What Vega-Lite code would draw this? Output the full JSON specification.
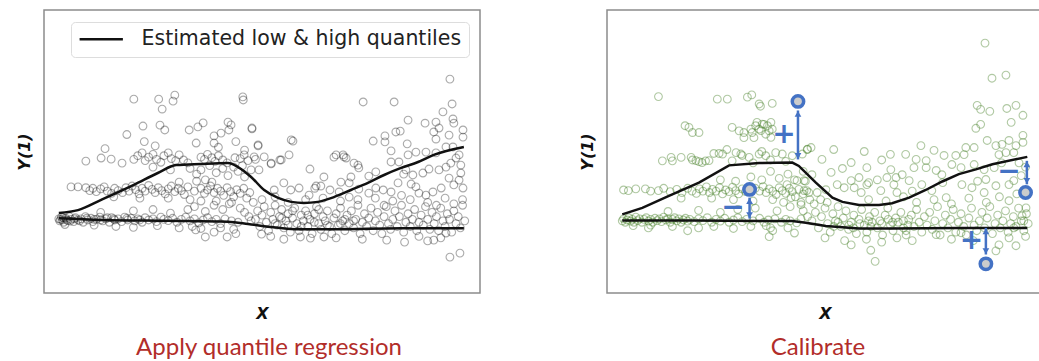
{
  "$schema": "https://vega.github.io/schema/vega-lite/v6.json",
  "background": "white",
  "padding": {"left": 15, "top": 9, "right": 0, "bottom": 0},
  "spacing": 97,
  "resolve": {"scale": {"color": "independent"}, "legend": {"color": "independent"}},
  "config": {
    "view": {"stroke": "#8c8c8c", "strokeWidth": 1.5},
    "axis": {"labels": false, "ticks": false, "domain": false, "grid": false, "titleFont": "DejaVu Sans", "titleFontSize": 16, "titleFontWeight": "bold", "titleFontStyle": "italic", "titleColor": "#111"},
    "axisX": {"titlePadding": 12},
    "axisY": {"titlePadding": 12},
    "title": {"orient": "bottom", "font": "Lato", "fontSize": 24, "fontWeight": "normal", "color": "#b22d2a", "offset": 15}
  },
  "datasets": {
    "ptsL": [
      {"x":0.34,"y":2.62},{"x":0.36,"y":2.55},{"x":0.4,"y":2.68},{"x":0.42,"y":2.58},{"x":0.45,"y":2.5},{"x":0.5,"y":2.64},{"x":0.55,"y":2.56},{"x":0.58,"y":2.7},{"x":0.62,"y":2.6},{"x":0.68,"y":2.52},{"x":0.72,"y":2.66},{"x":0.78,"y":2.58},{"x":0.85,"y":2.62},{"x":0.9,"y":2.5},{"x":0.95,"y":2.7},{"x":1.0,"y":2.58},{"x":1.08,"y":2.64},{"x":1.12,"y":2.52},{"x":1.2,"y":2.6},{"x":1.28,"y":2.68},{"x":1.35,"y":2.55},{"x":1.42,"y":2.62},{"x":1.5,"y":2.5},{"x":1.55,"y":2.66},{"x":1.62,"y":2.58},{"x":1.7,"y":2.62},{"x":1.78,"y":2.52},{"x":1.85,"y":2.68},{"x":1.92,"y":2.58},{"x":2.0,"y":2.64},{"x":2.08,"y":2.55},{"x":2.15,"y":2.62},{"x":2.25,"y":2.5},{"x":2.32,"y":2.66},{"x":2.4,"y":2.58},{"x":2.5,"y":2.62},{"x":2.58,"y":2.52},{"x":2.68,"y":2.68},{"x":2.75,"y":2.6},{"x":2.85,"y":2.56},{"x":2.95,"y":2.64},{"x":3.05,"y":2.5},{"x":3.15,"y":2.6},{"x":3.25,"y":2.68},{"x":3.35,"y":2.55},{"x":3.45,"y":2.62},{"x":3.55,"y":2.48},{"x":3.65,"y":2.58},{"x":3.75,"y":2.66},{"x":3.85,"y":2.52},{"x":3.95,"y":2.6},{"x":4.05,"y":2.45},{"x":4.15,"y":2.62},{"x":4.3,"y":2.55},{"x":4.45,"y":2.5},
      {"x":0.38,"y":2.6},{"x":0.44,"y":2.66},{"x":0.52,"y":2.58},{"x":0.6,"y":2.54},{"x":0.7,"y":2.62},{"x":0.82,"y":2.55},{"x":0.98,"y":2.64},{"x":1.15,"y":2.6},{"x":1.3,"y":2.58},{"x":1.45,"y":2.66},{"x":1.6,"y":2.62},{"x":1.9,"y":2.64},{"x":2.2,"y":2.58},
      {"x":0.48,"y":2.42},{"x":1.15,"y":2.4},{"x":1.65,"y":2.35},{"x":2.05,"y":2.32},{"x":2.6,"y":2.38},{"x":3.1,"y":2.3},{"x":3.4,"y":2.35},{"x":3.6,"y":2.28},{"x":3.9,"y":2.15},{"x":4.05,"y":2.3},{"x":4.2,"y":1.98},{"x":4.35,"y":2.25},{"x":4.4,"y":2.1},{"x":3.48,"y":2.23},{"x":3.7,"y":1.98},
      {"x":1.3,"y":2.85},{"x":2.05,"y":2.9},{"x":2.5,"y":2.95},{"x":2.9,"y":2.82},{"x":3.3,"y":2.95},{"x":3.45,"y":3.05},{"x":3.7,"y":2.88},{"x":3.9,"y":3.1},{"x":4.1,"y":2.95},{"x":4.25,"y":3.15},{"x":4.5,"y":3.0},{"x":4.6,"y":2.85},{"x":4.7,"y":2.7},{"x":4.75,"y":2.55},
      {"x":0.62,"y":3.75},{"x":0.78,"y":3.75},{"x":0.96,"y":3.72},{"x":1.05,"y":3.62},{"x":1.12,"y":3.7},{"x":1.2,"y":3.58},{"x":1.3,"y":3.68},{"x":1.38,"y":3.75},{"x":1.45,"y":3.6},{"x":1.55,"y":3.52},{"x":1.62,"y":3.7},{"x":1.7,"y":3.62},{"x":1.8,"y":3.55},{"x":1.88,"y":3.72},{"x":1.95,"y":3.6},{"x":2.02,"y":3.78},{"x":2.1,"y":3.65},{"x":2.18,"y":3.5},{"x":2.25,"y":3.7},{"x":2.32,"y":3.6},{"x":2.4,"y":3.8},{"x":2.48,"y":3.66},{"x":2.55,"y":3.55},{"x":2.62,"y":3.72},{"x":2.7,"y":3.62},{"x":2.78,"y":3.5},{"x":2.85,"y":3.68},{"x":2.92,"y":3.78},{"x":3.0,"y":3.58},{"x":3.08,"y":3.7},{"x":3.15,"y":3.62},{"x":3.22,"y":3.48},{"x":3.3,"y":3.75},{"x":3.45,"y":3.6},{"x":3.6,"y":3.7},{"x":3.68,"y":3.52},{"x":3.75,"y":3.64},{"x":3.82,"y":3.78},{"x":3.9,"y":3.55},{"x":3.98,"y":3.7},{"x":4.05,"y":3.6},{"x":4.12,"y":3.45},{"x":4.2,"y":3.72},{"x":4.28,"y":3.58},{"x":4.35,"y":3.4},{"x":4.42,"y":3.65},{"x":4.5,"y":3.52},{"x":4.58,"y":3.7},{"x":4.65,"y":3.35},{"x":4.72,"y":3.55},{"x":4.8,"y":3.2},{"x":2.2,"y":3.35},{"x":2.85,"y":3.35},{"x":3.35,"y":3.3},{"x":3.6,"y":3.25},{"x":3.95,"y":3.25},{"x":4.3,"y":3.2},{"x":1.6,"y":3.4},{"x":3.1,"y":3.92},{"x":3.5,"y":3.95},{"x":3.7,"y":4.0},{"x":3.85,"y":3.92},
      {"x":0.96,"y":4.66},{"x":1.31,"y":4.77},{"x":1.54,"y":4.73},{"x":1.79,"y":4.59},{"x":2.06,"y":4.72},{"x":2.15,"y":4.85},{"x":2.25,"y":4.95},{"x":2.32,"y":4.68},{"x":2.4,"y":4.8},{"x":2.5,"y":4.9},{"x":2.58,"y":4.72},{"x":2.68,"y":4.62},{"x":2.75,"y":4.85},{"x":2.85,"y":4.95},{"x":2.92,"y":4.75},{"x":3.02,"y":4.68},{"x":3.1,"y":4.88},{"x":3.2,"y":4.7},{"x":3.3,"y":4.6},{"x":3.6,"y":4.8},{"x":3.68,"y":4.72},{"x":3.75,"y":4.9},{"x":3.85,"y":4.78},{"x":3.92,"y":4.65},{"x":4.0,"y":4.85},{"x":4.1,"y":4.7},{"x":4.2,"y":4.6},{"x":4.38,"y":4.78},{"x":4.5,"y":4.75},{"x":4.68,"y":4.68},{"x":4.85,"y":4.72},
      {"x":3.35,"y":4.4},{"x":3.5,"y":4.2},{"x":3.6,"y":4.35},{"x":3.8,"y":4.5},{"x":3.95,"y":4.25},{"x":4.1,"y":4.4},{"x":4.22,"y":4.15},{"x":4.35,"y":4.45},{"x":4.45,"y":4.3},{"x":4.55,"y":4.5},{"x":4.6,"y":4.1},{"x":4.75,"y":4.35},{"x":2.5,"y":4.45},{"x":2.9,"y":4.35},
      {"x":2.06,"y":6.85},{"x":2.63,"y":6.85},{"x":2.96,"y":6.78},{"x":3.0,"y":6.99},{"x":2.71,"y":6.5},{"x":4.57,"y":6.82},{"x":2.27,"y":5.9},{"x":1.9,"y":5.6},{"x":2.66,"y":5.93},{"x":2.77,"y":5.76},{"x":3.33,"y":5.76},{"x":3.53,"y":5.87},{"x":3.65,"y":6.01},{"x":3.9,"y":5.55},{"x":4.22,"y":6.04},{"x":4.29,"y":5.94},{"x":4.24,"y":5.76},{"x":4.06,"y":5.65},{"x":4.77,"y":5.83},{"x":4.91,"y":5.2},{"x":3.49,"y":5.3},{"x":3.9,"y":5.3},{"x":2.3,"y":5.35},{"x":2.55,"y":5.2},{"x":4.0,"y":5.15},{"x":4.4,"y":5.35},{"x":4.6,"y":5.05},{"x":1.4,"y":5.1},
      {"x":4.85,"y":2.6},{"x":4.9,"y":2.9},{"x":4.95,"y":2.35},{"x":5.0,"y":2.75},{"x":5.05,"y":3.05},{"x":5.1,"y":2.5},{"x":5.15,"y":2.2},{"x":5.2,"y":2.85},{"x":5.25,"y":2.6},{"x":5.3,"y":3.1},{"x":5.35,"y":2.4},{"x":5.4,"y":2.7},{"x":5.45,"y":2.95},{"x":5.5,"y":2.3},{"x":5.55,"y":2.55},{"x":5.6,"y":2.8},{"x":5.65,"y":2.15},{"x":5.7,"y":2.65},{"x":5.75,"y":3.0},{"x":5.8,"y":2.45},{"x":5.85,"y":2.2},{"x":5.9,"y":2.75},{"x":5.95,"y":2.55},{"x":6.0,"y":2.9},{"x":6.05,"y":2.35},{"x":6.1,"y":2.6},{"x":6.15,"y":2.1},{"x":6.2,"y":2.8},{"x":6.25,"y":3.05},{"x":6.3,"y":2.45},{"x":6.35,"y":2.25},{"x":6.4,"y":2.7},{"x":6.45,"y":2.55},{"x":6.5,"y":2.9},{"x":6.55,"y":2.35},{"x":6.6,"y":2.1},{"x":6.65,"y":2.65},{"x":6.7,"y":2.8},{"x":6.75,"y":2.4},{"x":6.8,"y":3.0},{"x":6.85,"y":2.55},{"x":6.9,"y":2.2},{"x":6.95,"y":2.75},{"x":7.0,"y":2.45},{"x":7.05,"y":2.9},{"x":7.1,"y":2.3},{"x":7.15,"y":2.6},{"x":7.2,"y":3.1},{"x":7.25,"y":2.1},{"x":7.3,"y":2.5},{"x":7.35,"y":2.8},{"x":7.4,"y":2.35},{"x":7.45,"y":2.65},{"x":7.5,"y":3.0},{"x":7.55,"y":2.2},{"x":7.6,"y":2.55},{"x":7.65,"y":2.85},{"x":7.7,"y":2.4},{"x":7.75,"y":2.1},{"x":7.8,"y":2.7},{"x":7.85,"y":3.05},{"x":7.9,"y":2.45},{"x":7.95,"y":2.25},{"x":8.0,"y":2.6},{"x":8.05,"y":2.9},{"x":8.1,"y":2.35},{"x":8.15,"y":2.7},{"x":8.2,"y":3.1},{"x":8.25,"y":2.15},{"x":8.3,"y":2.5},{"x":8.35,"y":2.8},{"x":8.4,"y":2.35},{"x":8.45,"y":2.6},{"x":8.5,"y":2.95},{"x":8.55,"y":2.2},{"x":8.6,"y":2.5},{"x":8.65,"y":2.75},{"x":8.7,"y":2.4},{"x":8.75,"y":3.05},{"x":8.8,"y":2.6},{"x":8.85,"y":2.25},{"x":8.9,"y":2.85},{"x":8.95,"y":2.45},{"x":9.0,"y":2.7},{"x":9.05,"y":2.2},{"x":9.1,"y":3.0},{"x":9.15,"y":2.55},{"x":9.2,"y":2.35},{"x":9.25,"y":2.8},{"x":9.3,"y":2.6},{"x":9.35,"y":2.15},{"x":9.4,"y":2.9},{"x":9.45,"y":2.45},{"x":9.5,"y":2.7},{"x":9.55,"y":2.3},{"x":9.6,"y":3.1},{"x":9.65,"y":2.55},
      {"x":5.3,"y":2.45},{"x":5.6,"y":2.4},{"x":5.9,"y":2.35},{"x":6.2,"y":2.5},{"x":6.5,"y":2.4},{"x":6.8,"y":2.45},{"x":7.1,"y":2.55},{"x":5.7,"y":2.9},{"x":6.3,"y":2.95},{"x":6.9,"y":2.6},{"x":5.45,"y":2.65},{"x":6.05,"y":2.75},
      {"x":4.99,"y":2.08},{"x":5.88,"y":1.98},{"x":6.11,"y":1.94},{"x":6.42,"y":1.98},{"x":7.86,"y":1.87},{"x":8.27,"y":1.8},{"x":8.8,"y":1.84},{"x":8.94,"y":1.87},{"x":9.22,"y":2.12},{"x":9.31,"y":1.27},{"x":9.54,"y":1.41},{"x":5.5,"y":1.9},{"x":6.7,"y":1.95},{"x":7.3,"y":1.9},{"x":8.6,"y":2.0},{"x":9.1,"y":1.95},{"x":5.2,"y":2.0},
      {"x":5.66,"y":3.64},{"x":6.21,"y":3.7},{"x":6.35,"y":3.78},{"x":6.08,"y":3.46},{"x":6.56,"y":3.64},{"x":5.28,"y":3.64},{"x":5.41,"y":4.7},{"x":5.21,"y":4.59},{"x":4.91,"y":5.23},{"x":4.77,"y":5.8},{"x":4.56,"y":6.93},{"x":4.93,"y":4.35},{"x":6.1,"y":4.38},{"x":6.42,"y":4.1},{"x":6.65,"y":4.8},{"x":5.67,"y":5.41},{"x":5.5,"y":3.89},{"x":5.85,"y":3.71},{"x":6.24,"y":3.78},
      {"x":9.31,"y":7.56},{"x":7.32,"y":6.75},{"x":8.03,"y":6.75},{"x":9.36,"y":6.68},{"x":9.15,"y":6.4},{"x":8.35,"y":6.11},{"x":8.74,"y":6.0},{"x":8.99,"y":6.04},{"x":9.38,"y":6.15},{"x":9.4,"y":6.0},{"x":7.82,"y":5.55},{"x":8.07,"y":5.69},{"x":8.17,"y":5.72},{"x":7.55,"y":5.37},{"x":7.82,"y":5.34},{"x":8.33,"y":5.27},{"x":8.94,"y":5.69},{"x":8.99,"y":5.44},{"x":9.06,"y":5.83},{"x":9.29,"y":5.58},{"x":9.61,"y":5.76},{"x":9.61,"y":5.51},{"x":7.96,"y":5.02},{"x":8.53,"y":4.98},{"x":8.76,"y":4.98},{"x":8.99,"y":4.95},{"x":9.22,"y":5.16},{"x":9.38,"y":5.16},{"x":9.52,"y":4.88},{"x":9.45,"y":4.77},{"x":8.35,"y":4.88},{"x":8.14,"y":4.63},{"x":7.96,"y":4.63},{"x":6.93,"y":4.77},{"x":6.86,"y":4.88},{"x":7.2,"y":4.52},{"x":7.22,"y":4.42},{"x":7.61,"y":4.28},{"x":7.45,"y":4.13},{"x":7.04,"y":4.1},{"x":6.81,"y":3.92},{"x":7.0,"y":3.89},{"x":8.3,"y":4.35},{"x":8.46,"y":4.17},{"x":8.25,"y":4.2},{"x":8.69,"y":4.24},{"x":8.83,"y":4.38},{"x":9.06,"y":4.35},{"x":9.22,"y":4.45},{"x":9.33,"y":4.59},{"x":9.56,"y":4.52},{"x":9.56,"y":4.24},{"x":9.29,"y":4.06},{"x":9.52,"y":3.99},{"x":9.4,"y":3.82},{"x":9.61,"y":3.71},{"x":9.11,"y":3.71},{"x":8.92,"y":3.57},{"x":8.76,"y":3.46},{"x":8.6,"y":3.53},{"x":8.53,"y":3.75},{"x":8.42,"y":3.85},{"x":8.12,"y":3.89},{"x":7.96,"y":3.57},{"x":7.78,"y":3.64},{"x":7.61,"y":3.71},{"x":7.45,"y":3.53},{"x":7.22,"y":3.67},{"x":7.0,"y":3.39},{"x":6.77,"y":3.57},
      {"x":6.7,"y":4.88},{"x":6.88,"y":4.81},{"x":7.11,"y":4.59},{"x":5.71,"y":5.37},{"x":5.62,"y":4.88},{"x":5.21,"y":4.56},{"x":5.44,"y":4.7},{"x":5.05,"y":4.81},{"x":4.59,"y":4.88},{"x":4.82,"y":4.81},
      {"x":5.0,"y":3.3},{"x":5.3,"y":3.4},{"x":5.6,"y":3.2},{"x":6.0,"y":3.3},{"x":6.4,"y":3.35},{"x":6.8,"y":3.25},{"x":7.2,"y":3.3},{"x":7.6,"y":3.35},{"x":8.0,"y":3.25},{"x":8.4,"y":3.3},{"x":8.8,"y":3.2},{"x":9.2,"y":3.35},{"x":9.6,"y":3.3},{"x":7.8,"y":3.1},{"x":8.2,"y":3.45},{"x":9.0,"y":3.1},{"x":9.4,"y":3.15}
    ],
    "linesL": [
      {"q":"hi","x":0.34,"y":2.83},{"q":"hi","x":0.78,"y":2.93},{"q":"hi","x":1.31,"y":3.29},{"q":"hi","x":2.06,"y":3.82},{"q":"hi","x":2.61,"y":4.24},{"q":"hi","x":3.03,"y":4.52},{"q":"hi","x":3.6,"y":4.56},{"q":"hi","x":4.22,"y":4.59},{"q":"hi","x":4.45,"y":4.45},{"q":"hi","x":4.75,"y":4.1},{"q":"hi","x":5.05,"y":3.64},{"q":"hi","x":5.37,"y":3.36},{"q":"hi","x":5.67,"y":3.22},{"q":"hi","x":5.96,"y":3.18},{"q":"hi","x":6.28,"y":3.22},{"q":"hi","x":6.65,"y":3.39},{"q":"hi","x":7.04,"y":3.64},{"q":"hi","x":7.43,"y":3.89},{"q":"hi","x":7.8,"y":4.17},{"q":"hi","x":8.19,"y":4.42},{"q":"hi","x":8.58,"y":4.63},{"q":"hi","x":8.94,"y":4.88},{"q":"hi","x":9.63,"y":5.16},
      {"q":"lo","x":0.34,"y":2.64},{"q":"lo","x":1.31,"y":2.58},{"q":"lo","x":2.84,"y":2.55},{"q":"lo","x":4.22,"y":2.52},{"q":"lo","x":4.68,"y":2.44},{"q":"lo","x":5.14,"y":2.34},{"q":"lo","x":5.89,"y":2.25},{"q":"lo","x":6.65,"y":2.25},{"q":"lo","x":8.19,"y":2.29},{"q":"lo","x":9.63,"y":2.29}
    ],
    "ptsR": [
      {"x":0.35,"y":2.55},{"x":0.38,"y":2.62},{"x":0.42,"y":2.5},{"x":0.46,"y":2.58},{"x":0.5,"y":2.66},{"x":0.54,"y":2.54},{"x":0.58,"y":2.6},{"x":0.62,"y":2.5},{"x":0.66,"y":2.68},{"x":0.7,"y":2.56},{"x":0.75,"y":2.62},{"x":0.8,"y":2.5},{"x":0.85,"y":2.6},{"x":0.9,"y":2.66},{"x":0.95,"y":2.54},{"x":1.0,"y":2.6},{"x":1.05,"y":2.5},{"x":1.1,"y":2.64},{"x":1.15,"y":2.56},{"x":1.2,"y":2.62},{"x":1.25,"y":2.52},{"x":1.3,"y":2.68},{"x":1.35,"y":2.58},{"x":1.4,"y":2.62},{"x":1.45,"y":2.5},{"x":1.5,"y":2.6},{"x":1.55,"y":2.66},{"x":1.6,"y":2.55},{"x":1.65,"y":2.62},{"x":1.7,"y":2.5},{"x":1.75,"y":2.58},{"x":1.8,"y":2.64},{"x":1.85,"y":2.54},{"x":1.9,"y":2.6},{"x":2.0,"y":2.52},{"x":2.1,"y":2.62},{"x":2.2,"y":2.56},{"x":2.3,"y":2.66},{"x":2.4,"y":2.5},{"x":2.5,"y":2.6},{"x":2.6,"y":2.54},{"x":2.7,"y":2.64},{"x":2.8,"y":2.5},{"x":2.9,"y":2.58},{"x":3.0,"y":2.66},{"x":3.1,"y":2.52},{"x":3.2,"y":2.6},{"x":3.35,"y":2.55},{"x":3.5,"y":2.64},{"x":3.6,"y":2.5},{"x":3.7,"y":2.58},{"x":3.85,"y":2.62},{"x":4.0,"y":2.5},{"x":4.1,"y":2.6},{"x":4.2,"y":2.55},{"x":4.35,"y":2.48},{"x":4.45,"y":2.62},
      {"x":0.6,"y":2.38},{"x":1.0,"y":2.4},{"x":1.5,"y":2.35},{"x":2.1,"y":2.3},{"x":2.45,"y":2.35},{"x":2.9,"y":2.28},{"x":3.3,"y":2.35},{"x":3.65,"y":2.38},{"x":3.8,"y":2.2},{"x":4.15,"y":2.3},{"x":4.3,"y":2.12},{"x":1.85,"y":2.2},{"x":0.95,"y":2.3},{"x":3.75,"y":2.3},{"x":3.72,"y":1.99},
      {"x":1.4,"y":2.88},{"x":2.1,"y":2.92},{"x":2.6,"y":2.85},{"x":3.0,"y":2.95},{"x":3.4,"y":3.0},{"x":3.9,"y":2.9},{"x":4.2,"y":3.05},{"x":4.5,"y":2.9},{"x":4.6,"y":2.7},
      {"x":0.38,"y":3.64},{"x":0.49,"y":3.62},{"x":0.66,"y":3.68},{"x":0.88,"y":3.68},{"x":1.0,"y":3.6},{"x":1.18,"y":3.62},{"x":1.3,"y":3.7},{"x":1.45,"y":3.58},{"x":1.6,"y":3.66},{"x":1.72,"y":3.55},{"x":1.85,"y":3.7},{"x":1.95,"y":3.6},{"x":2.05,"y":3.52},{"x":2.12,"y":3.68},{"x":2.2,"y":3.6},{"x":2.28,"y":3.75},{"x":2.35,"y":3.55},{"x":2.42,"y":3.66},{"x":2.5,"y":3.6},{"x":2.58,"y":3.72},{"x":2.65,"y":3.5},{"x":2.72,"y":3.64},{"x":2.8,"y":3.58},{"x":2.88,"y":3.74},{"x":2.95,"y":3.62},{"x":3.02,"y":3.5},{"x":3.1,"y":3.68},{"x":3.18,"y":3.58},{"x":3.4,"y":3.7},{"x":3.5,"y":3.6},{"x":3.58,"y":3.76},{"x":3.65,"y":3.55},{"x":3.72,"y":3.68},{"x":3.8,"y":3.6},{"x":3.88,"y":3.48},{"x":3.95,"y":3.72},{"x":4.02,"y":3.62},{"x":4.1,"y":3.52},{"x":4.18,"y":3.7},{"x":4.25,"y":3.58},{"x":4.32,"y":3.4},{"x":4.4,"y":3.66},{"x":4.5,"y":3.5},{"x":4.58,"y":3.62},{"x":4.65,"y":3.3},{"x":2.4,"y":3.35},{"x":2.9,"y":3.3},{"x":3.35,"y":3.25},{"x":3.8,"y":3.3},{"x":4.05,"y":3.2},{"x":1.7,"y":3.35},{"x":4.45,"y":3.2},
      {"x":2.6,"y":4.0},{"x":2.95,"y":3.95},{"x":3.3,"y":4.1},{"x":3.55,"y":4.0},{"x":3.75,"y":4.3},{"x":3.95,"y":4.05},{"x":4.15,"y":4.2},{"x":4.3,"y":4.0},{"x":4.5,"y":4.3},{"x":4.55,"y":3.95},
      {"x":1.27,"y":4.67},{"x":1.47,"y":4.79},{"x":1.5,"y":4.67},{"x":1.7,"y":4.79},{"x":1.93,"y":4.79},{"x":1.96,"y":4.7},{"x":2.04,"y":4.68},{"x":2.11,"y":4.64},{"x":2.18,"y":4.61},{"x":2.26,"y":4.67},{"x":2.34,"y":4.68},{"x":2.45,"y":4.93},{"x":2.57,"y":4.93},{"x":2.65,"y":4.91},{"x":2.75,"y":5.07},{"x":2.87,"y":4.67},{"x":2.96,"y":4.96},{"x":3.07,"y":4.91},{"x":3.1,"y":4.86},{"x":3.26,"y":4.79},{"x":3.49,"y":4.91},{"x":3.64,"y":4.85},{"x":3.87,"y":4.96},{"x":4.02,"y":4.91},{"x":4.25,"y":4.85},{"x":4.48,"y":4.91},{"x":4.6,"y":5.08},{"x":4.68,"y":5.14},{"x":3.35,"y":4.6},{"x":3.75,"y":4.7},{"x":4.1,"y":4.65},{"x":3.55,"y":5.0},
      {"x":1.79,"y":5.91},{"x":1.88,"y":5.85},{"x":1.96,"y":5.67},{"x":2.11,"y":5.67},{"x":2.87,"y":5.85},{"x":3.03,"y":5.73},{"x":3.14,"y":5.49},{"x":3.33,"y":5.67},{"x":3.41,"y":5.91},{"x":3.56,"y":5.97},{"x":3.68,"y":5.91},{"x":3.72,"y":5.73},{"x":3.79,"y":5.79},{"x":3.64,"y":5.61},{"x":3.37,"y":5.49},{"x":3.14,"y":5.67},{"x":3.49,"y":5.79},{"x":3.3,"y":5.79},{"x":3.44,"y":6.03},{"x":3.6,"y":5.96},{"x":3.76,"y":6.03},{"x":3.53,"y":5.74},{"x":3.76,"y":5.5},
      {"x":1.18,"y":6.94},{"x":2.53,"y":6.85},{"x":2.76,"y":6.85},{"x":3.22,"y":6.92},{"x":3.32,"y":7.0},{"x":3.52,"y":6.6},{"x":3.79,"y":6.7},{"x":3.49,"y":6.68},
      {"x":4.7,"y":2.55},{"x":4.78,"y":2.85},{"x":4.85,"y":2.3},{"x":4.92,"y":2.7},{"x":5.0,"y":3.0},{"x":5.06,"y":2.45},{"x":5.12,"y":2.15},{"x":5.18,"y":2.8},{"x":5.24,"y":2.55},{"x":5.3,"y":3.05},{"x":5.36,"y":2.35},{"x":5.42,"y":2.65},{"x":5.48,"y":2.9},{"x":5.54,"y":2.25},{"x":5.6,"y":2.5},{"x":5.66,"y":2.75},{"x":5.72,"y":2.1},{"x":5.78,"y":2.6},{"x":5.84,"y":2.95},{"x":5.9,"y":2.4},{"x":5.96,"y":2.15},{"x":6.02,"y":2.7},{"x":6.08,"y":2.5},{"x":6.14,"y":2.85},{"x":6.2,"y":2.3},{"x":6.26,"y":2.55},{"x":6.32,"y":2.05},{"x":6.38,"y":2.75},{"x":6.44,"y":3.0},{"x":6.5,"y":2.4},{"x":6.56,"y":2.2},{"x":6.62,"y":2.65},{"x":6.68,"y":2.5},{"x":6.74,"y":2.85},{"x":6.8,"y":2.3},{"x":6.86,"y":2.05},{"x":6.92,"y":2.6},{"x":6.98,"y":2.75},{"x":7.04,"y":2.35},{"x":7.1,"y":2.95},{"x":7.16,"y":2.5},{"x":7.22,"y":2.15},{"x":7.28,"y":2.7},{"x":7.34,"y":2.4},{"x":7.4,"y":2.85},{"x":7.46,"y":2.25},{"x":7.52,"y":2.55},{"x":7.58,"y":3.05},{"x":7.64,"y":2.05},{"x":7.7,"y":2.45},{"x":7.76,"y":2.75},{"x":7.82,"y":2.3},{"x":7.88,"y":2.6},{"x":7.94,"y":2.95},{"x":8.0,"y":2.15},{"x":8.06,"y":2.5},{"x":8.12,"y":2.8},{"x":8.18,"y":2.35},{"x":8.24,"y":2.05},{"x":8.3,"y":2.65},{"x":8.36,"y":3.0},{"x":8.42,"y":2.4},{"x":8.48,"y":2.2},{"x":8.54,"y":2.55},{"x":8.6,"y":2.85},{"x":8.66,"y":2.3},{"x":8.72,"y":2.65},{"x":8.78,"y":3.05},{"x":8.84,"y":2.1},{"x":8.9,"y":2.45},{"x":8.96,"y":2.75},{"x":9.02,"y":2.3},{"x":9.08,"y":2.55},{"x":9.14,"y":2.9},{"x":9.2,"y":2.15},{"x":9.26,"y":2.45},{"x":9.32,"y":2.7},{"x":9.38,"y":2.35},{"x":9.44,"y":3.0},{"x":9.5,"y":2.55},{"x":9.56,"y":2.2},{"x":9.62,"y":2.8},{"x":9.66,"y":2.45},
      {"x":5.3,"y":2.5},{"x":5.55,"y":2.4},{"x":5.8,"y":2.45},{"x":6.05,"y":2.35},{"x":6.3,"y":2.45},{"x":6.55,"y":2.5},{"x":6.8,"y":2.55},{"x":5.65,"y":2.3},{"x":6.0,"y":2.55},{"x":6.45,"y":2.6},{"x":6.9,"y":2.4},{"x":5.2,"y":2.35},
      {"x":5.0,"y":1.95},{"x":5.45,"y":1.85},{"x":5.95,"y":1.9},{"x":6.3,"y":1.8},{"x":6.65,"y":1.95},{"x":7.0,"y":1.85},{"x":7.55,"y":2.06},{"x":6.86,"y":2.2},{"x":8.12,"y":2.13},{"x":9.22,"y":1.95},{"x":8.99,"y":1.7},{"x":9.38,"y":1.67},{"x":8.92,"y":1.49},{"x":6.05,"y":1.51},{"x":6.15,"y":1.12},{"x":7.9,"y":1.9},{"x":8.4,"y":1.85},{"x":9.6,"y":2.0},{"x":5.6,"y":1.7},
      {"x":5.2,"y":5.07},{"x":4.93,"y":4.72},{"x":5.6,"y":4.61},{"x":5.14,"y":4.26},{"x":5.96,"y":4.43},{"x":6.51,"y":4.36},{"x":6.63,"y":4.08},{"x":5.78,"y":4.08},{"x":5.6,"y":3.97},{"x":5.28,"y":3.83},{"x":5.44,"y":3.72},{"x":5.83,"y":3.55},{"x":5.02,"y":3.65},{"x":4.82,"y":3.55},{"x":4.63,"y":3.55},{"x":4.52,"y":3.97},{"x":4.7,"y":4.18},{"x":4.59,"y":5.07},
      {"x":4.13,"y":3.83},{"x":4.36,"y":3.97},{"x":4.52,"y":3.62},{"x":4.22,"y":3.37},{"x":4.45,"y":3.12},{"x":5.67,"y":3.72},{"x":5.96,"y":3.83},{"x":6.28,"y":3.62},{"x":6.42,"y":4.08},{"x":6.58,"y":3.83},{"x":6.65,"y":3.55},
      {"x":7.2,"y":5.21},{"x":7.5,"y":5.04},{"x":7.73,"y":4.86},{"x":8.0,"y":4.86},{"x":8.23,"y":5.14},{"x":8.42,"y":5.14},{"x":8.19,"y":4.89},{"x":7.09,"y":4.72},{"x":7.32,"y":4.68},{"x":7.04,"y":4.43},{"x":7.32,"y":4.43},{"x":7.55,"y":4.33},{"x":7.68,"y":4.18},{"x":7.91,"y":4.54},{"x":8.12,"y":4.43},{"x":8.42,"y":4.54},{"x":8.65,"y":4.36},{"x":8.88,"y":4.43},{"x":8.99,"y":4.89},{"x":9.15,"y":4.96},{"x":9.33,"y":4.96},{"x":6.77,"y":4.18},{"x":6.93,"y":3.97},{"x":7.22,"y":3.83},{"x":7.45,"y":3.62},{"x":7.78,"y":3.37},{"x":8.14,"y":3.83},{"x":8.37,"y":3.72},{"x":8.69,"y":4.01},{"x":8.65,"y":3.55},{"x":8.92,"y":3.79},{"x":9.22,"y":3.83},{"x":9.33,"y":3.97},{"x":9.22,"y":3.26},{"x":9.61,"y":3.01},{"x":9.52,"y":2.73},{"x":9.56,"y":2.55},{"x":9.33,"y":2.3},
      {"x":8.67,"y":8.83},{"x":8.83,"y":7.59},{"x":9.15,"y":7.7},{"x":8.49,"y":6.63},{"x":8.57,"y":6.49},{"x":8.78,"y":6.42},{"x":9.17,"y":6.52},{"x":9.38,"y":6.63},{"x":9.54,"y":6.28},{"x":9.27,"y":6.03},{"x":8.46,"y":5.82},{"x":8.57,"y":5.96},{"x":8.72,"y":5.39},{"x":9.54,"y":5.57},{"x":9.54,"y":5.32},{"x":9.22,"y":5.39},{"x":9.06,"y":5.25},{"x":8.92,"y":5.21},{"x":9.38,"y":5.21},
      {"x":6.0,"y":3.3},{"x":6.4,"y":3.25},{"x":6.8,"y":3.4},{"x":7.1,"y":3.2},{"x":7.5,"y":3.3},{"x":7.9,"y":3.15},{"x":8.3,"y":3.35},{"x":8.7,"y":3.2},{"x":9.0,"y":3.4},{"x":9.4,"y":3.5},{"x":7.0,"y":3.6},{"x":7.7,"y":3.9},{"x":8.5,"y":3.95},{"x":9.5,"y":4.15},{"x":9.6,"y":4.45},{"x":9.45,"y":4.6},{"x":9.05,"y":4.6},{"x":6.2,"y":4.0},{"x":6.0,"y":3.9},{"x":5.4,"y":4.4},{"x":6.3,"y":4.7},{"x":5.9,"y":5.0},{"x":6.5,"y":4.9},{"x":6.85,"y":4.9},{"x":4.75,"y":3.15},{"x":4.9,"y":3.3},{"x":5.05,"y":3.2}
    ],
    "linesR": [
      {"q":"hi","x":0.35,"y":2.78},{"q":"hi","x":0.81,"y":3.01},{"q":"hi","x":1.42,"y":3.43},{"q":"hi","x":2.11,"y":3.9},{"q":"hi","x":2.8,"y":4.51},{"q":"hi","x":3.49,"y":4.59},{"q":"hi","x":4.25,"y":4.61},{"q":"hi","x":4.4,"y":4.49},{"q":"hi","x":4.79,"y":3.9},{"q":"hi","x":5.17,"y":3.37},{"q":"hi","x":5.4,"y":3.22},{"q":"hi","x":5.78,"y":3.11},{"q":"hi","x":6.24,"y":3.11},{"q":"hi","x":6.54,"y":3.17},{"q":"hi","x":6.93,"y":3.37},{"q":"hi","x":7.31,"y":3.64},{"q":"hi","x":7.69,"y":3.94},{"q":"hi","x":8.07,"y":4.2},{"q":"hi","x":8.46,"y":4.37},{"q":"hi","x":8.84,"y":4.55},{"q":"hi","x":9.64,"y":4.81},
      {"q":"lo","x":0.35,"y":2.56},{"q":"lo","x":1.96,"y":2.56},{"q":"lo","x":4.25,"y":2.54},{"q":"lo","x":4.56,"y":2.48},{"q":"lo","x":5.02,"y":2.37},{"q":"lo","x":5.78,"y":2.28},{"q":"lo","x":6.54,"y":2.28},{"q":"lo","x":8.07,"y":2.3},{"q":"lo","x":9.64,"y":2.3}
    ],
    "arrows": [
      {"x":4.38,"y":6.45,"y2":4.72},{"x":3.27,"y":3.37,"y2":2.63},{"x":9.63,"y":4.67,"y2":3.84},{"x":8.69,"y":2.3,"y2":1.36}
    ],
    "heads": [
      {"x":4.38,"y":6.33,"dir":"up"},{"x":4.38,"y":4.84,"dir":"down"},{"x":3.27,"y":3.25,"dir":"up"},{"x":3.27,"y":2.75,"dir":"down"},{"x":9.63,"y":4.55,"dir":"up"},{"x":9.63,"y":3.96,"dir":"down"},{"x":8.69,"y":2.18,"dir":"up"},{"x":8.69,"y":1.48,"dir":"down"}
    ],
    "circles": [
      {"x":4.38,"y":6.77},{"x":3.27,"y":3.66},{"x":9.6,"y":3.55},{"x":8.69,"y":1.03}
    ],
    "signs": [
      {"x":4.06,"y":5.6,"t":"+"},{"x":2.89,"y":2.99,"t":"−"},{"x":9.22,"y":4.29,"t":"−"},{"x":8.36,"y":1.83,"t":"+"}
    ]
  },
  "hconcat": [
    {
      "width": 436,
      "height": 283,
      "title": {"text": "Apply quantile regression", "dx": 7},
      "encoding": {
        "x": {"field": "x", "type": "quantitative", "scale": {"domain": [0, 10], "nice": false, "zero": false}, "title": "X"},
        "y": {"field": "y", "type": "quantitative", "scale": {"domain": [0, 10], "nice": false, "zero": false}, "title": "Y(1)"}
      },
      "layer": [
        {"data": {"name": "ptsL"}, "mark": {"type": "point", "shape": "circle", "filled": false, "size": 60, "strokeWidth": 1.1, "color": "#000000", "opacity": 0.33}},
        {"data": {"name": "linesL"}, "mark": {"type": "line", "interpolate": "monotone", "strokeWidth": 2.5},
         "encoding": {
           "detail": {"field": "q", "type": "nominal"},
           "color": {"datum": "Estimated low & high quantiles", "type": "nominal", "scale": {"range": ["#111111"]},
             "legend": {"title": null, "orient": "none", "legendX": 27, "legendY": 12, "symbolType": "M-1,0H4", "symbolSize": 300, "symbolStrokeWidth": 2.5, "symbolStrokeColor": "#111111", "symbolFillColor": "transparent", "labelFont": "DejaVu Sans", "labelFontSize": 20.5, "labelColor": "#222222", "labelLimit": 500, "padding": 7, "strokeColor": "#dddddd", "fillColor": "#ffffff", "cornerRadius": 4, "labelOffset": 43}}
         }}
      ]
    },
    {
      "width": 436,
      "height": 283,
      "title": {"text": "Calibrate", "dx": -7},
      "encoding": {
        "x": {"field": "x", "type": "quantitative", "scale": {"domain": [0, 10], "nice": false, "zero": false}, "title": "X"},
        "y": {"field": "y", "type": "quantitative", "scale": {"domain": [0, 10], "nice": false, "zero": false}, "title": "Y(1)"}
      },
      "layer": [
        {"data": {"name": "ptsR"}, "mark": {"type": "point", "shape": "circle", "filled": false, "size": 60, "strokeWidth": 1.1, "color": "#3d7a1c", "opacity": 0.4}},
        {"data": {"name": "linesR"}, "mark": {"type": "line", "strokeWidth": 2.5, "color": "#111111"},
         "encoding": {"detail": {"field": "q", "type": "nominal"}}},
        {"data": {"name": "arrows"}, "mark": {"type": "rule", "color": "#4472c4", "strokeWidth": 2.5},
         "encoding": {"y2": {"field": "y2"}}},
        {"data": {"name": "heads"}, "mark": {"type": "point", "filled": true, "size": 45, "color": "#4472c4", "opacity": 1},
         "encoding": {"shape": {"field": "dir", "type": "nominal", "scale": {"domain": ["up", "down"], "range": ["triangle-up", "triangle-down"]}, "legend": null}}},
        {"data": {"name": "circles"}, "mark": {"type": "point", "shape": "circle", "filled": true, "size": 130, "fill": "#cccccc", "stroke": "#4472c4", "strokeWidth": 3.5, "opacity": 1}},
        {"data": {"name": "signs"}, "mark": {"type": "text", "font": "DejaVu Sans", "fontWeight": "bold", "fontSize": 28, "color": "#4472c4", "baseline": "middle", "align": "center"},
         "encoding": {"text": {"field": "t"}}}
      ]
    }
  ]
}
